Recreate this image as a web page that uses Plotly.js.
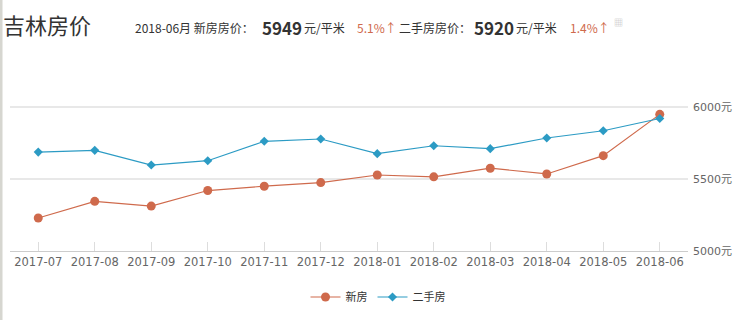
<!DOCTYPE html>
<html><head><meta charset="utf-8">
<script src="https://cdn.plot.ly/plotly-3.0.1.min.js"></script>
<style>html,body{margin:0;padding:0;background:#fff}#c{width:756px;height:320px}</style>
</head><body><div id="c"></div>
<script>
const months = ['2017-07','2017-08','2017-09','2017-10','2017-11','2017-12','2018-01','2018-02','2018-03','2018-04','2018-05','2018-06'];
const newHouse = [5229,5345,5312,5420,5450,5475,5528,5515,5575,5535,5662,5949];
const secondHand = [5687,5699,5597,5627,5762,5778,5676,5731,5711,5785,5835,5920];
const yTicks = [5000,5500,6000];
const yTickText = ['5000元','5500元','6000元'];
const redC = '#cf6a4c', blueC = '#2c9bc4';
const F = '"Noto Sans CJK SC", "DejaVu Sans", sans-serif';

const traces = [
  {x: months, y: newHouse, name: '新房', type: 'scatter', mode: 'lines+markers',
   line: {color: redC, width: 1.2}, marker: {symbol: 'circle', size: 9, color: redC}},
  {x: months, y: secondHand, name: '二手房', type: 'scatter', mode: 'lines+markers',
   line: {color: blueC, width: 1.2}, marker: {symbol: 'diamond', size: 7, color: blueC}}
];
function ann(text, size, color, bold){
  return {xref:'paper', yref:'paper', x: 0, y: 1, xanchor:'left', yanchor:'middle',
    text: bold ? '<b>'+text+'</b>' : text, showarrow:false,
    font:{family:F, size:size, color:color}};
}
const T = 105, B = 68, L = 10, R = 68;
const plotW = 756 - L - R, plotH = 320 - T - B;
const layout = {
  width: 756, height: 320,
  margin: {l: L, r: R, t: T, b: B},
  paper_bgcolor: '#fff', plot_bgcolor: '#fff',
  font: {family: F, color: '#666'},
  showlegend: true,
  legend: {orientation: 'h', x: (378 - L) / plotW, xanchor: 'center', y: -(297 - 252) / plotH, yanchor: 'middle',
    font: {family: F, size: 11, color: '#333'}, itemwidth: 30, tracegroupgap: 0},
  xaxis: {type: 'category', range: [-0.5, 11.5], showgrid: false, zeroline: false,
    showline: true, linecolor: '#ccc', linewidth: 1,
    ticks: 'inside', ticklen: 9, tickcolor: '#ddd', tickwidth: 1,
    tickfont: {family: '"DejaVu Sans", sans-serif', size: 11.5, color: '#666'}},
  yaxis: {range: [5000, 6014], side: 'right', tickvals: yTicks, ticktext: yTickText,
    showgrid: true, gridcolor: '#e8e8e8', gridwidth: 2, zeroline: false, showline: false,
    ticks: '', ticklabelstandoff: 4,
    tickfont: {family: '"DejaVu Sans", "Noto Sans CJK SC", sans-serif', size: 11, color: '#666'}},
  shapes: [
    {type:'line', xref:'paper', yref:'paper', x0:-9/plotW, x1:-9/plotW, y0:-1, y1:2,
     line:{color:'#d6d6d0', width:3}}
  ],
  annotations: [
    ann('吉林房价',22,'#333',false),
    ann('2018-06月 新房房价：',12,'#333',false),
    ann('5949',17,'#333',true),
    ann('元/平米',12,'#333',false),
    ann('5.1%↑',12,redC,false),
    ann('二手房房价：',12,'#333',false),
    ann('5920',17,'#333',true),
    ann('元/平米',12,'#333',false),
    ann('1.4%↑',12,redC,false),
    ann('▦',9,'#bbb',false)
  ]
};
// header annotations at pixel positions (converted to paper coords of the plot area)
const xs = [1,133,260,302,355,397,472,514,568,612];
const ys = [23,27,27,27,27,27,27,27,27,22];
for (let i = 0; i < xs.length; i++) {
  const a = layout.annotations[i];
  a.x = (xs[i] - L) / plotW;
  a.y = 1 + (T - ys[i]) / plotH;
}
Plotly.newPlot('c', traces, layout, {displayModeBar: false, staticPlot: true});
</script></body></html>
